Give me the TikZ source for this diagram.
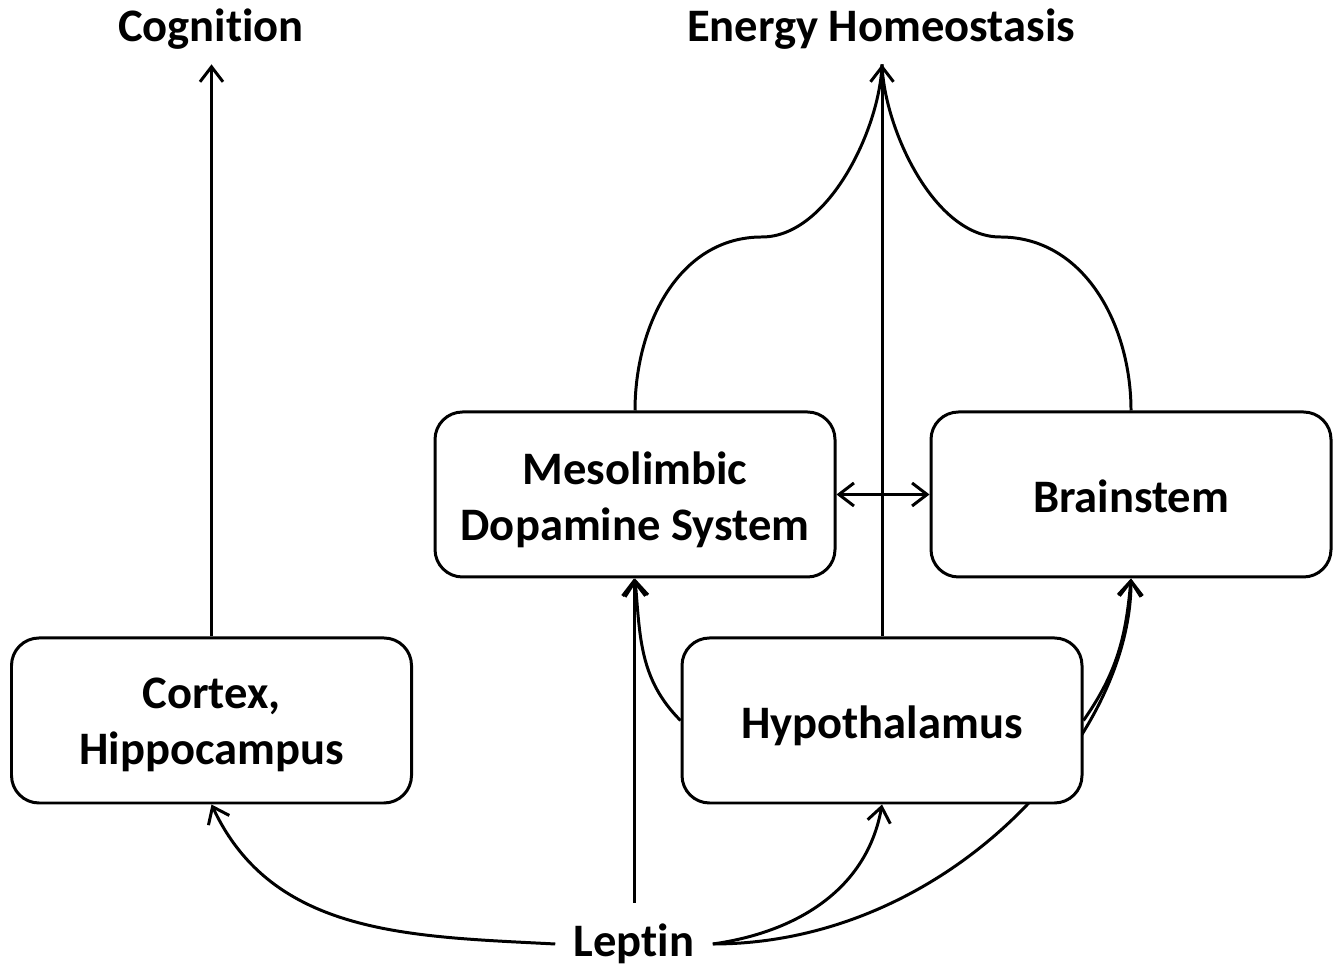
\documentclass[tikz,border=0pt]{standalone}
\usepackage{fontspec}
\setmainfont{Carlito}[Ligatures=NoCommon]
\usetikzlibrary{arrows.meta,backgrounds}

\begin{document}
\begin{tikzpicture}[
  font=\bfseries\fontsize{26.5}{32}\selectfont,
  line width=1.7pt,
  box/.style={draw,fill=white,rounded corners=0.55cm,minimum width=8cm,minimum height=3.3cm,align=center,line width=1.7pt},
  lbl/.style={inner xsep=0.1cm,inner ysep=0.26cm},
  arr/.style={-{Straight Barb[length=0.3cm,width=0.46cm,line width=1.7pt]}}
]

\useasboundingbox (0,0) rectangle (26.8,19.38);

% Titres
\node[lbl,anchor=base] (cog) at (4.22,18.54)
{Cognition};

\node[lbl,anchor=base] (eh) at (17.62,18.54)
{Energy Homeostasis};

% Boites
\node[box] (cortex) at (4.23,4.97)
{\raisebox{-0.09cm}[\height][\depth]{Cortex,}\\\raisebox{-0.09cm}[\height][\depth]{Hippocampus}};

\node[box] (meso) at (12.7,9.49)
{\raisebox{-0.1cm}[\height][\depth]{Mesolimbic}\\\raisebox{-0.1cm}[\height][\depth]{Dopamine System}};

\node[box] (brain) at (22.62,9.49)
{\raisebox{-0.04cm}[\height][\depth]{Brainstem}};

\node[box] (hypo) at (17.64,4.97)
{\raisebox{-0.1cm}[\height][\depth]{Hypothalamus}};

% Leptin
\node[inner xsep=0.34cm,inner ysep=0.4cm] (leptin) at (12.68,0.5)
{Leptin};

\coordinate (lmid) at (15.24,14.64);
\coordinate (rmid) at (20.0,14.64);

% vers le haut
\draw[arr]
(cortex.north)
--
(cortex.north |- cog.south);

\draw[arr]
(hypo.north)
--
(hypo.north |- eh.south);

\draw
(meso.north) to[out=90,in=180] (lmid)
to[out=0,in=-92,looseness=0.8] (hypo.north |- eh.south);

\draw
(brain.north) to[out=90,in=0] (rmid)
to[out=180,in=-88,looseness=0.8] (hypo.north |- eh.south);

\draw[{Straight Barb[length=0.3cm,width=0.46cm,line width=1.7pt]}-{Straight Barb[length=0.3cm,width=0.46cm,line width=1.7pt]}]
(meso.east)
--
(brain.west);

% Hypothalamus vers Meso et Brainstem
\draw[arr]
(hypo.west) to[out=135,in=-85] (meso.south);

\draw[arr]
(hypo.east) to[out=55,in=-95] (brain.south);

% Leptin vers les boites
\draw[arr]
(leptin.north)
--
(leptin.north |- meso.south);

\draw[arr]
(leptin.west) to[out=177,in=-65] (cortex.south);

\draw[arr]
(leptin.east) to[out=8,in=-100] (hypo.south);

\begin{scope}[on background layer]
\draw[arr,line width=1.7pt]
(leptin.east) .. controls +(4.7,0) and +(0,-3.2) .. (brain.south);
\end{scope}

\end{tikzpicture}
\end{document}
